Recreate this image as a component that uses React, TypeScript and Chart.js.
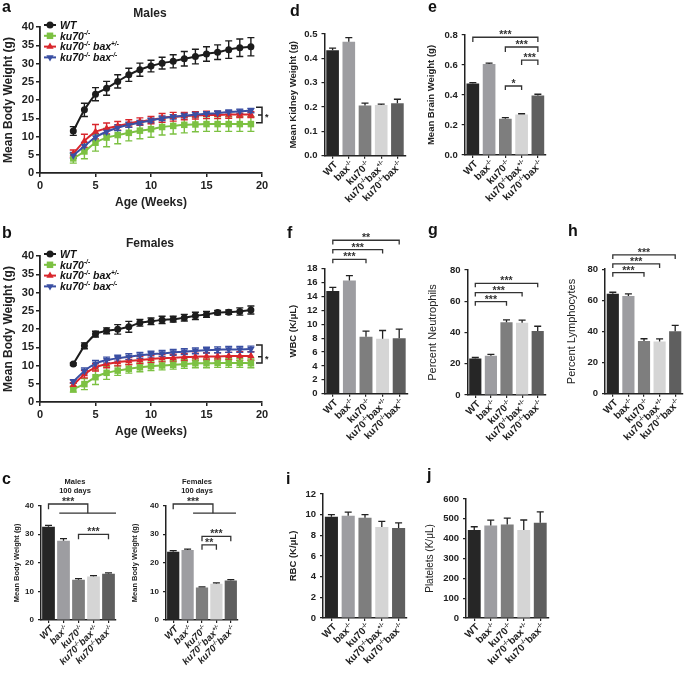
import React, { useEffect, useRef } from 'react';
import { Chart, registerables } from 'chart.js';

Chart.register(...registerables);

const FONT = "'Liberation Sans', Arial, Helvetica, sans-serif";
const INK = '#222222';

// ---------------- Data: growth curves (weeks 3..19) ----------------
const weeks = [3, 4, 5, 6, 7, 8, 9, 10, 11, 12, 13, 14, 15, 16, 17, 18, 19];
const seriesLabels = ['WT', 'ku70-/-', 'ku70-/- bax+/-', 'ku70-/- bax-/-'];

const maleWT = [11.5, 17.3, 21.6, 23.2, 25.1, 26.9, 28.3, 29.3, 30.1, 30.6, 31.3, 31.9, 32.6, 33.1, 33.8, 34.3, 34.6];
const maleWTErr = [1.2, 1.8, 1.8, 1.9, 1.8, 1.8, 1.8, 1.6, 1.6, 1.8, 2.0, 2.0, 2.0, 2.0, 2.4, 2.4, 2.5];
const maleKu = [4.0, 5.9, 8.3, 9.7, 10.4, 11.0, 11.6, 12.0, 12.6, 12.9, 13.2, 13.3, 13.4, 13.4, 13.4, 13.4, 13.4];
const maleKuErr = [1.3, 2.0, 2.3, 2.5, 2.4, 2.2, 2.2, 2.2, 2.2, 2.2, 2.2, 2.0, 2.0, 2.0, 2.0, 2.0, 2.0];
const maleHet = [5.3, 8.8, 11.3, 12.2, 12.9, 13.6, 14.1, 14.5, 15.1, 15.4, 15.6, 15.8, 15.9, 15.9, 16.0, 16.0, 16.0];
const maleHetErr = [1.0, 1.8, 2.0, 1.5, 1.2, 1.0, 1.0, 1.0, 1.2, 1.2, 1.0, 1.0, 1.0, 1.0, 1.0, 0.8, 0.8];
const maleKo = [4.8, 7.4, 9.8, 11.3, 12.4, 13.2, 13.8, 14.4, 15.0, 15.4, 15.7, 16.0, 16.2, 16.4, 16.7, 16.9, 17.1];
const maleKoErr = [0.8, 1.0, 1.0, 0.8, 0.8, 0.7, 0.6, 0.6, 0.6, 0.6, 0.6, 0.6, 0.6, 0.6, 0.6, 0.6, 0.6];

const femaleWT = [10.4, 15.4, 18.6, 19.5, 19.9, 20.6, 21.7, 22.1, 22.5, 22.7, 23.1, 23.6, 24.0, 24.5, 24.6, 24.8, 25.2];
const femaleWTErr = [0.3, 0.8, 0.8, 0.8, 1.3, 1.5, 0.9, 0.9, 1.0, 0.8, 0.9, 1.0, 0.8, 0.6, 0.6, 1.0, 1.1];
const femaleKu = [3.5, 4.9, 6.8, 8.0, 8.6, 9.1, 9.5, 9.8, 10.0, 10.2, 10.4, 10.6, 10.6, 10.7, 10.7, 10.7, 10.6];
const femaleKuErr = [0.8, 1.5, 2.0, 1.8, 1.3, 1.2, 1.2, 1.2, 1.2, 1.2, 1.2, 1.2, 1.2, 1.2, 1.2, 1.2, 1.2];
const femaleHet = [4.7, 7.6, 9.5, 10.4, 10.9, 11.2, 11.5, 11.8, 12.0, 12.1, 12.3, 12.4, 12.5, 12.5, 12.6, 12.6, 12.6];
const femaleHetErr = [0.6, 1.0, 1.0, 1.0, 1.0, 1.0, 1.0, 1.0, 1.0, 1.0, 1.0, 1.0, 1.0, 1.0, 1.0, 1.2, 1.2];
const femaleKo = [5.6, 8.5, 10.5, 11.5, 12.0, 12.4, 12.8, 13.1, 13.3, 13.6, 13.8, 14.0, 14.2, 14.3, 14.4, 14.4, 14.5];
const femaleKoErr = [0.5, 0.8, 0.9, 0.8, 0.8, 0.8, 0.8, 0.8, 0.8, 0.8, 0.8, 0.8, 0.8, 0.8, 0.8, 0.8, 0.8];

// ---------------- Data: bar panels ----------------
const genotypes = ['WT', 'bax-/-', 'ku70-/-', 'ku70-/-bax+/-', 'ku70-/-bax-/-'];
const male100 = [32.6, 27.7, 14.1, 15.2, 16.2];
const male100Err = [0.5, 0.8, 0.4, 0.3, 0.3];
const female100 = [23.9, 24.5, 11.4, 12.7, 13.8];
const female100Err = [0.4, 0.3, 0.2, 0.3, 0.3];
const kidney = [0.433, 0.468, 0.206, 0.208, 0.216];
const kidneyErr = [0.009, 0.017, 0.01, 0.004, 0.016];
const brain = [0.477, 0.606, 0.242, 0.27, 0.396];
const brainErr = [0.005, 0.007, 0.007, 0.005, 0.009];
const wbc = [14.8, 16.3, 8.2, 7.9, 8.0];
const wbcErr = [0.5, 0.7, 0.8, 1.2, 1.3];
const neutro = [23.4, 25.2, 46.6, 46.3, 41.0];
const neutroErr = [0.6, 0.8, 1.5, 1.6, 3.0];
const lympho = [64.3, 62.8, 33.9, 33.6, 40.1];
const lymphoErr = [0.9, 1.4, 1.4, 1.6, 3.8];
const rbc = [9.8, 9.9, 9.7, 8.8, 8.7];
const rbcErr = [0.2, 0.35, 0.3, 0.55, 0.5];
const platelets = [444, 467, 472, 444, 480];
const plateletsErr = [16, 26, 32, 50, 55];

// significance brackets, in data units
type Bracket = { x1: number; x2: number; y: number; d1: number; d2: number; label: string };
const male100Sig: Bracket[] = [
  { x1: 0, x2: 2.62, y: 40.6, d1: 38.8, d2: 37.4, label: '***' },
  { x1: 0.72, x2: 4.5, y: 37.4, d1: 37.4, d2: 37.4, label: '' },
  { x1: 2, x2: 4, y: 30.0, d1: 28.3, d2: 28.3, label: '***' },
];
const female100Sig: Bracket[] = [
  { x1: 0, x2: 2.76, y: 40.6, d1: 38.8, d2: 37.4, label: '***' },
  { x1: 1.38, x2: 4.36, y: 37.4, d1: 37.4, d2: 37.4, label: '' },
  { x1: 2, x2: 4, y: 29.3, d1: 27.6, d2: 27.6, label: '***' },
  { x1: 2, x2: 3, y: 26.3, d1: 24.6, d2: 24.6, label: '**' },
];
const brainSig: Bracket[] = [
  { x1: 0, x2: 4, y: 0.785, d1: 0.753, d2: 0.753, label: '***' },
  { x1: 2, x2: 4, y: 0.72, d1: 0.687, d2: 0.687, label: '***' },
  { x1: 3, x2: 4, y: 0.633, d1: 0.6, d2: 0.6, label: '***' },
  { x1: 2, x2: 3, y: 0.46, d1: 0.433, d2: 0.433, label: '*' },
];
const wbcSig: Bracket[] = [
  { x1: 0, x2: 4, y: 22.1, d1: 21.5, d2: 21.5, label: '**' },
  { x1: 0, x2: 3, y: 20.75, d1: 20.2, d2: 20.2, label: '***' },
  { x1: 0, x2: 2, y: 19.35, d1: 18.8, d2: 18.8, label: '***' },
];
const neutroSig: Bracket[] = [
  { x1: 0, x2: 4, y: 71.5, d1: 69, d2: 69, label: '***' },
  { x1: 0, x2: 3, y: 65.5, d1: 63, d2: 63, label: '***' },
  { x1: 0, x2: 2, y: 59.7, d1: 57.2, d2: 57.2, label: '***' },
];
const lymphoSig: Bracket[] = [
  { x1: 0, x2: 4, y: 89.2, d1: 86.6, d2: 86.6, label: '***' },
  { x1: 0, x2: 3, y: 83.4, d1: 80.8, d2: 80.8, label: '***' },
  { x1: 0, x2: 2, y: 77.8, d1: 75.2, d2: 75.2, label: '***' },
];
const maleCurveSig = { x: 20, top: 18.0, mid: 15.9, bot: 13.8 };
const femaleCurveSig = { x: 20, top: 15.6, mid: 12.4, bot: 10.7 };

// ---------------- Styles ----------------
const barColors = ['#262626', '#9d9da1', '#7e7e7e', '#d5d5d5', '#5f5f5f'];
const lineStyles = [
  { color: '#1c1c1c', point: 'circle', radius: 3.5, rot: 0 },
  { color: '#7cc142', point: 'rect', radius: 4.6, rot: 0 },
  { color: '#d9262c', point: 'triangle', radius: 4.2, rot: 0 },
  { color: '#3a4fa3', point: 'triangle', radius: 4.2, rot: 180 },
];

type Box = { x: number; y: number; w: number; h: number };
type Area = { l: number; t: number; r: number; b: number };

function parseRich(s: string) {
  const out: { t: string; sup: boolean }[] = [];
  const re = /[+\-]\/[+\-]/g;
  let last = 0;
  let m: RegExpExecArray | null;
  while ((m = re.exec(s)) !== null) {
    if (m.index > last) out.push({ t: s.slice(last, m.index), sup: false });
    out.push({ t: m[0], sup: true });
    last = m.index + m[0].length;
  }
  if (last < s.length) out.push({ t: s.slice(last), sup: false });
  return out;
}

function drawRich(ctx: CanvasRenderingContext2D, s: string, x: number, y: number, size: number, style: string, align: string) {
  const parts = parseRich(s);
  const f = (sz: number) => `${style} ${sz}px ${FONT}`;
  const supSize = size * 0.62;
  let w = 0;
  for (const p of parts) {
    ctx.font = f(p.sup ? supSize : size);
    w += ctx.measureText(p.t).width;
  }
  let cx = align === 'left' ? x : align === 'right' ? x - w : x - w / 2;
  ctx.textAlign = 'left';
  ctx.textBaseline = 'alphabetic';
  for (const p of parts) {
    ctx.font = f(p.sup ? supSize : size);
    ctx.fillText(p.t, cx, p.sup ? y - size * 0.42 : y);
    cx += ctx.measureText(p.t).width;
  }
}

function drawMarker(ctx: CanvasRenderingContext2D, style: string, x: number, y: number, r: number, rot: number, color: string) {
  ctx.fillStyle = color;
  ctx.beginPath();
  if (style === 'circle') {
    ctx.arc(x, y, r, 0, Math.PI * 2);
  } else if (style === 'rect') {
    const s = r * Math.SQRT1_2;
    ctx.rect(x - s, y - s, 2 * s, 2 * s);
  } else {
    let rad = (rot * Math.PI) / 180;
    ctx.moveTo(x + Math.sin(rad) * r, y - Math.cos(rad) * r);
    rad += (2 * Math.PI) / 3;
    ctx.lineTo(x + Math.sin(rad) * r, y - Math.cos(rad) * r);
    rad += (2 * Math.PI) / 3;
    ctx.lineTo(x + Math.sin(rad) * r, y - Math.cos(rad) * r);
    ctx.closePath();
  }
  ctx.fill();
}

function computeLayout(box: Box, area: Area, yTitleX: number, yTitleSize: number, xBottom: number) {
  const lh = yTitleSize * 1.2;
  const padLeft = yTitleX - lh / 2 - box.x;
  const yW = area.l - box.x - padLeft;
  const padTop = area.t - box.y;
  const padRight = box.x + box.w - area.r;
  const xH = xBottom - area.b;
  const padBottom = box.y + box.h - xBottom;
  return { padding: { left: padLeft, top: padTop, right: padRight, bottom: padBottom }, yW, xH };
}

// ---------------- Line (growth curve) panels ----------------
type LineSpec = {
  box: Box; area: Area; means: number[][]; errs: number[][];
  sig: { x: number; top: number; mid: number; bot: number };
};

function makeLineChart(canvas: HTMLCanvasElement, spec: LineSpec) {
  const titleSize = 12;
  const xTitleY = spec.area.b + 30;
  const lay = computeLayout(spec.box, spec.area, 9, titleSize, xTitleY + titleSize * 0.6);
  const extras = {
    id: 'lineExtras',
    beforeDatasetsDraw(chart: any) {
      const ctx = chart.ctx as CanvasRenderingContext2D;
      const ys = chart.scales.y;
      ctx.save();
      ctx.lineWidth = 1.4;
      spec.means.forEach((m, si) => {
        const meta = chart.getDatasetMeta(si);
        ctx.strokeStyle = lineStyles[si].color;
        meta.data.forEach((pt: any, j: number) => {
          const yt = ys.getPixelForValue(m[j] + spec.errs[si][j]);
          const yb = ys.getPixelForValue(m[j] - spec.errs[si][j]);
          ctx.beginPath();
          ctx.moveTo(pt.x, yt); ctx.lineTo(pt.x, yb);
          ctx.moveTo(pt.x - 3.5, yt); ctx.lineTo(pt.x + 3.5, yt);
          ctx.moveTo(pt.x - 3.5, yb); ctx.lineTo(pt.x + 3.5, yb);
          ctx.stroke();
        });
      });
      ctx.restore();
    },
    afterDraw(chart: any) {
      const ctx = chart.ctx as CanvasRenderingContext2D;
      const ca = chart.chartArea;
      const xs = chart.scales.x;
      const ys = chart.scales.y;
      ctx.save();
      // legend
      seriesLabels.forEach((lab, i) => {
        const st = lineStyles[i];
        const yy = ca.top - 2 + i * 10.8;
        ctx.strokeStyle = st.color;
        ctx.lineWidth = 2;
        ctx.beginPath();
        ctx.moveTo(ca.left + 4, yy); ctx.lineTo(ca.left + 16, yy);
        ctx.stroke();
        drawMarker(ctx, st.point, ca.left + 10, yy, st.radius, st.rot, st.color);
        ctx.fillStyle = '#111';
        drawRich(ctx, lab, ca.left + 20, yy + 3.8, 10.5, 'italic bold', 'left');
      });
      // significance bracket
      const sx = xs.getPixelForValue(spec.sig.x);
      const yt = ys.getPixelForValue(spec.sig.top);
      const ym = ys.getPixelForValue(spec.sig.mid);
      const yb = ys.getPixelForValue(spec.sig.bot);
      ctx.strokeStyle = INK;
      ctx.lineWidth = 1.5;
      ctx.beginPath();
      ctx.moveTo(sx - 6, yt); ctx.lineTo(sx, yt); ctx.lineTo(sx, yb); ctx.lineTo(sx - 6, yb);
      ctx.moveTo(sx, ym); ctx.lineTo(sx - 4, ym);
      ctx.stroke();
      ctx.fillStyle = INK;
      ctx.font = `bold 9px ${FONT}`;
      ctx.textAlign = 'left';
      ctx.textBaseline = 'alphabetic';
      ctx.fillText('*', sx + 3, ym + 5);
      ctx.restore();
    },
  };
  const axisCommon = {
    grid: { display: true, drawOnChartArea: false, drawTicks: true, tickLength: 4, color: INK, lineWidth: 1.5 },
    border: { display: true, color: INK, width: 1.8 },
  };
  return new Chart(canvas, {
    type: 'line',
    data: {
      datasets: spec.means.map((m, si) => ({
        label: seriesLabels[si],
        data: weeks.map((w, i) => ({ x: w, y: m[i] })),
        borderColor: lineStyles[si].color,
        backgroundColor: lineStyles[si].color,
        borderWidth: 2,
        pointStyle: lineStyles[si].point as any,
        pointRadius: lineStyles[si].radius,
        pointRotation: lineStyles[si].rot,
        pointBorderWidth: 0,
        tension: 0.15,
        order: 3 - si,
      })),
    },
    options: {
      responsive: false,
      animation: false,
      devicePixelRatio: 1,
      layout: { padding: lay.padding },
      plugins: { legend: { display: false }, tooltip: { enabled: false }, title: { display: false } },
      scales: {
        x: {
          type: 'linear', min: 0, max: 20,
          ...axisCommon,
          ticks: { stepSize: 5, padding: 2, autoSkip: false, color: INK, font: { family: FONT, size: 11, weight: 'bold' } },
          title: { display: true, text: 'Age (Weeks)', color: INK, padding: 0, font: { family: FONT, size: titleSize, weight: 'bold' } },
          afterFit: (s: any) => { s.height = lay.xH; },
        },
        y: {
          min: 0, max: 40,
          ...axisCommon,
          ticks: { stepSize: 5, padding: 2, autoSkip: false, color: INK, font: { family: FONT, size: 11, weight: 'bold' } },
          title: { display: true, text: 'Mean Body Weight (g)', color: INK, padding: 0, font: { family: FONT, size: titleSize, weight: 'bold' } },
          afterFit: (s: any) => { s.width = lay.yW; },
        },
      },
    } as any,
    plugins: [extras as any],
  });
}

// ---------------- Bar panels ----------------
type BarSpec = {
  box: Box; area: Area; values: number[]; errors: number[];
  yMax: number; yStep: number; decimals: number;
  yTitle: string; yTitleX: number; yTitleSize: number; yTitleWeight: string;
  tickSize: number; labelSize: number; labelStyle: string; barPct: number;
  brackets: Bracket[];
};

function makeBarChart(canvas: HTMLCanvasElement, spec: BarSpec) {
  const lay = computeLayout(spec.box, spec.area, spec.yTitleX, spec.yTitleSize, spec.area.b + 8);
  const extras = {
    id: 'barExtras',
    afterDatasetsDraw(chart: any) {
      const ctx = chart.ctx as CanvasRenderingContext2D;
      const xs = chart.scales.x;
      const ys = chart.scales.y;
      const ca = chart.chartArea;
      const meta = chart.getDatasetMeta(0);
      ctx.save();
      // error bars (upper)
      ctx.strokeStyle = INK;
      ctx.lineWidth = 1.3;
      meta.data.forEach((el: any, i: number) => {
        const top = ys.getPixelForValue(spec.values[i] + spec.errors[i]);
        ctx.beginPath();
        ctx.moveTo(el.x, el.y); ctx.lineTo(el.x, top);
        ctx.moveTo(el.x - 3.5, top); ctx.lineTo(el.x + 3.5, top);
        ctx.stroke();
      });
      // brackets
      ctx.lineWidth = 1.3;
      ctx.strokeStyle = '#333';
      spec.brackets.forEach((b) => {
        const x1 = xs.getPixelForValue(b.x1);
        const x2 = xs.getPixelForValue(b.x2);
        const y = ys.getPixelForValue(b.y);
        ctx.beginPath();
        ctx.moveTo(x1, ys.getPixelForValue(b.d1));
        ctx.lineTo(x1, y); ctx.lineTo(x2, y);
        ctx.lineTo(x2, ys.getPixelForValue(b.d2));
        ctx.stroke();
        if (b.label) {
          ctx.fillStyle = '#333';
          ctx.font = `bold 10.5px ${FONT}`;
          ctx.textAlign = 'center';
          ctx.textBaseline = 'alphabetic';
          ctx.fillText(b.label, (x1 + x2) / 2, y + 1);
        }
      });
      // rotated category labels
      ctx.fillStyle = INK;
      genotypes.forEach((g, i) => {
        const px = xs.getPixelForValue(i) + 3;
        const py = ca.bottom + 7;
        ctx.save();
        ctx.translate(px, py);
        ctx.rotate(-Math.PI / 4);
        drawRich(ctx, g, 0, spec.labelSize * 0.36, spec.labelSize, spec.labelStyle, 'right');
        ctx.restore();
      });
      ctx.restore();
    },
  };
  return new Chart(canvas, {
    type: 'bar',
    data: {
      labels: genotypes,
      datasets: [{
        data: spec.values,
        backgroundColor: barColors,
        borderWidth: 0,
        barPercentage: spec.barPct,
        categoryPercentage: 1,
      }],
    },
    options: {
      responsive: false,
      animation: false,
      devicePixelRatio: 1,
      layout: { padding: lay.padding },
      plugins: { legend: { display: false }, tooltip: { enabled: false }, title: { display: false } },
      scales: {
        x: {
          grid: { display: true, drawOnChartArea: false, drawTicks: true, tickLength: 3, offset: false, color: INK, lineWidth: 1.2 },
          border: { display: true, color: INK, width: 1.5 },
          ticks: { callback: () => '', autoSkip: false },
          afterFit: (s: any) => { s.height = lay.xH; },
        },
        y: {
          min: 0, max: spec.yMax,
          grid: { display: true, drawOnChartArea: false, drawTicks: true, tickLength: 3, color: INK, lineWidth: 1.2 },
          border: { display: true, color: INK, width: 1.5 },
          ticks: {
            stepSize: spec.yStep, padding: 4, color: INK, autoSkip: false, maxTicksLimit: 30,
            font: { family: FONT, size: spec.tickSize, weight: 'bold' },
            callback: (v: any) => Number(v).toFixed(spec.decimals),
          },
          title: {
            display: true, text: spec.yTitle, color: INK, padding: 0,
            font: { family: FONT, size: spec.yTitleSize, weight: spec.yTitleWeight },
          },
          afterFit: (s: any) => { s.width = lay.yW; },
        },
      },
    } as any,
    plugins: [extras as any],
  });
}

// ---------------- Panel specs ----------------
const lineA: LineSpec = {
  box: { x: 0, y: 0, w: 300, h: 215 }, area: { l: 40, t: 27, r: 262, b: 173 },
  means: [maleWT, maleKu, maleHet, maleKo], errs: [maleWTErr, maleKuErr, maleHetErr, maleKoErr], sig: maleCurveSig,
};
const lineB: LineSpec = {
  box: { x: 0, y: 212, w: 300, h: 232 }, area: { l: 40, t: 256, r: 262, b: 402 },
  means: [femaleWT, femaleKu, femaleHet, femaleKo], errs: [femaleWTErr, femaleKuErr, femaleHetErr, femaleKoErr], sig: femaleCurveSig,
};

const baseBar = { tickSize: 9.5, labelSize: 10, labelStyle: 'bold', barPct: 0.78, yTitleWeight: 'bold', yTitleSize: 9.5, decimals: 0 };

const bars: BarSpec[] = [
  { ...baseBar, box: { x: 0, y: 465, w: 150, h: 210 }, area: { l: 41, t: 505.7, r: 116, b: 620 }, values: male100, errors: male100Err, yMax: 40, yStep: 10, yTitle: 'Mean Body Weight (g)', yTitleX: 17, yTitleSize: 7.5, tickSize: 8, labelSize: 9.5, labelStyle: 'italic bold', barPct: 0.85, brackets: male100Sig },
  { ...baseBar, box: { x: 125, y: 465, w: 160, h: 210 }, area: { l: 166, t: 505.7, r: 238, b: 620 }, values: female100, errors: female100Err, yMax: 40, yStep: 10, yTitle: 'Mean Body Weight (g)', yTitleX: 135, yTitleSize: 7.5, tickSize: 8, labelSize: 9.5, labelStyle: 'italic bold', barPct: 0.85, brackets: female100Sig },
  { ...baseBar, box: { x: 283, y: 0, w: 142, h: 215 }, area: { l: 324.5, t: 34, r: 405.5, b: 155.7 }, values: kidney, errors: kidneyErr, yMax: 0.5, yStep: 0.1, decimals: 1, yTitle: 'Mean Kidney Weight (g)', yTitleX: 293, brackets: [] },
  { ...baseBar, box: { x: 423, y: 0, w: 142, h: 215 }, area: { l: 464.7, t: 35, r: 546, b: 155 }, values: brain, errors: brainErr, yMax: 0.8, yStep: 0.2, decimals: 1, yTitle: 'Mean Brain Weight (g)', yTitleX: 431, brackets: brainSig },
  { ...baseBar, box: { x: 283, y: 215, w: 142, h: 235 }, area: { l: 324.5, t: 268.7, r: 407.5, b: 393.7 }, values: wbc, errors: wbcErr, yMax: 18, yStep: 2, yTitle: 'WBC (K/μL)', yTitleX: 293, brackets: wbcSig },
  { ...baseBar, box: { x: 423, y: 215, w: 142, h: 235 }, area: { l: 467.5, t: 270, r: 545.5, b: 395 }, values: neutro, errors: neutroErr, yMax: 80, yStep: 20, yTitle: 'Percent Neutrophils', yTitleX: 433, yTitleSize: 11, yTitleWeight: 'normal', brackets: neutroSig },
  { ...baseBar, box: { x: 563, y: 215, w: 122, h: 235 }, area: { l: 605, t: 269.2, r: 683, b: 393.7 }, values: lympho, errors: lymphoErr, yMax: 80, yStep: 20, yTitle: 'Percent Lymphocytes', yTitleX: 572, yTitleSize: 11, yTitleWeight: 'normal', brackets: lymphoSig },
  { ...baseBar, box: { x: 283, y: 465, w: 142, h: 210 }, area: { l: 323, t: 494, r: 407, b: 618 }, values: rbc, errors: rbcErr, yMax: 12, yStep: 2, yTitle: 'RBC (K/μL)', yTitleX: 293, brackets: [] },
  { ...baseBar, box: { x: 420, y: 465, w: 145, h: 210 }, area: { l: 466, t: 499, r: 548.5, b: 618 }, values: platelets, errors: plateletsErr, yMax: 600, yStep: 100, yTitle: 'Platelets (K/μL)', yTitleX: 430, yTitleSize: 10, yTitleWeight: 'normal', brackets: [] },
];

function ChartCanvas({ box, make }: { box: Box; make: (c: HTMLCanvasElement) => Chart }) {
  const ref = useRef<HTMLCanvasElement>(null);
  useEffect(() => {
    const chart = make(ref.current as HTMLCanvasElement);
    return () => chart.destroy();
  }, []);
  return (
    <canvas
      ref={ref}
      width={box.w}
      height={box.h}
      style={{ position: 'absolute', left: box.x, top: box.y, width: box.w, height: box.h }}
    />
  );
}

const panelLetters: [string, number, number][] = [
  ['a', 2, -1], ['b', 2, 225], ['c', 2, 471], ['d', 290, 3], ['e', 428, -1],
  ['f', 287, 225], ['g', 428, 222], ['h', 568, 223], ['i', 286, 471], ['j', 427, 467],
];

export default function App() {
  const letterStyle = (x: number, y: number): React.CSSProperties => ({
    position: 'absolute', left: x, top: y, font: `bold 16px ${FONT}`, lineHeight: '16px', color: '#111',
  });
  const titleStyle = (cx: number, top: number, size: number, lh: number): React.CSSProperties => ({
    position: 'absolute', left: cx - 60, width: 120, top, textAlign: 'center',
    font: `bold ${size}px ${FONT}`, lineHeight: `${lh}px`, color: INK,
  });
  return (
    <div style={{ position: 'fixed', left: 0, top: 0, width: 685, height: 675, background: '#fff', overflow: 'hidden' }}>
      <ChartCanvas box={lineA.box} make={(c) => makeLineChart(c, lineA)} />
      <ChartCanvas box={lineB.box} make={(c) => makeLineChart(c, lineB)} />
      {bars.map((b, i) => (
        <ChartCanvas key={i} box={b.box} make={(c) => makeBarChart(c, b)} />
      ))}
      <div style={titleStyle(150, 6, 12, 14)}>Males</div>
      <div style={titleStyle(150, 236, 12, 14)}>Females</div>
      <div style={titleStyle(75, 476.5, 7.5, 9)}>Males<br />100 days</div>
      <div style={titleStyle(197, 476.5, 7.5, 9)}>Females<br />100 days</div>
      {panelLetters.map(([t, x, y]) => (
        <div key={t} style={letterStyle(x, y)}>{t}</div>
      ))}
    </div>
  );
}
